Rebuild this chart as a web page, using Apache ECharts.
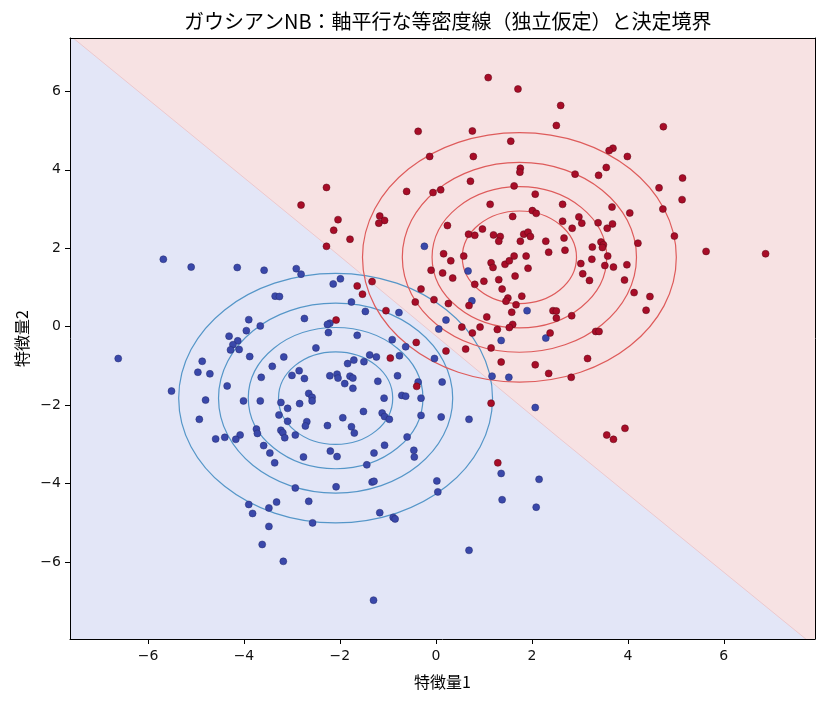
<!DOCTYPE html>
<html>
<head>
<meta charset="utf-8">
<script src="https://cdn.jsdelivr.net/npm/echarts@6/dist/echarts.min.js"></script>
<style>html,body{margin:0;padding:0;background:#fff}#c{width:826px;height:703px}</style>
</head>
<body>
<div id="c"></div>
<script>
// ---- data ----
const titleText = 'ガウシアンNB：軸平行な等密度線（独立仮定）と決定境界';
const xName = '特徴量1';
const yName = '特徴量2';
const xTicks = [-6, -4, -2, 0, 2, 4, 6];
const yTicks = [-6, -4, -2, 0, 2, 4, 6];
const xRange = [-7.625, 7.9];
const yRange = [-7.96, 7.36];

// decision boundary (class 1 above / right)
const boundary = [[-8.2, 8.0], [-2.28, 2.08], [2.58, -2.85], [8.2, -8.45]];
const class1Corner = [[8.2, 8.0]];

// axis-parallel contour ellipses (center, semi-axes for each level)
const class0Center = [-2.09, -1.82];
const class1Center = [1.74, 1.77];
const contourRx = [1.19, 1.82, 2.44, 3.27];
const contourRy = [1.18, 1.80, 2.42, 3.18];

const class0Points = [[-0.24,2.05],[0.67,1.42],[0.75,0.66],[1.90,0.41],[0.21,0.17],[0.06,-0.06],[1.36,-0.35],[2.29,-0.29],[1.52,-1.29],[1.17,-1.26],[2.07,-2.06],[-1.99,1.22],[-2.14,1.09],[-1.76,0.63],[-1.47,0.39],[-0.77,0.36],[-2.21,0.09],[-1.64,-0.22],[-0.91,-0.33],[-0.63,-0.51],[-0.76,-0.74],[-0.03,-0.81],[-1.38,-0.72],[-1.24,-0.77],[-1.50,-0.89],[-1.71,-0.85],[-1.84,-0.94],[-2.21,-1.25],[-2.06,-1.21],[-2.04,-1.31],[-1.79,-1.26],[-1.73,-1.31],[-1.90,-1.45],[-1.73,-1.57],[-1.21,-1.39],[-0.80,-1.25],[-0.37,-1.41],[0.13,-1.41],[-0.71,-1.75],[-0.63,-1.77],[-0.31,-1.82],[-1.08,-1.82],[-1.51,-2.16],[-1.12,-2.20],[-1.07,-2.29],[-0.97,-2.36],[-1.94,-2.32],[-0.31,-2.26],[0.11,-2.30],[0.69,-2.36],[-1.76,-2.55],[-1.70,-2.71],[-0.60,-2.81],
[-5.68,1.72],[-5.10,1.52],[-4.14,1.51],[-3.58,1.44],[-2.91,1.48],[-2.81,1.34],[-3.35,0.78],[-3.26,0.77],[-3.90,0.18],[-3.66,0.02],[-3.95,-0.10],[-4.31,-0.24],[-4.13,-0.36],[-4.23,-0.46],[-4.28,-0.59],[-4.10,-0.58],[-2.74,0.21],[-2.26,0.06],[-2.24,-0.15],[-2.50,-0.54],[-6.62,-0.81],[-4.87,-0.88],[-4.96,-1.16],[-4.71,-1.20],[-3.88,-0.76],[-3.17,-0.77],[-3.41,-1.01],[-3.64,-1.29],[-4.35,-1.51],[-2.85,-1.12],[-3.00,-1.24],[-2.74,-1.32],[-2.65,-1.70],[-2.58,-1.80],[-2.58,-1.89],[-5.51,-1.64],[-4.80,-1.87],[-4.01,-1.89],[-3.66,-1.89],[-3.23,-1.93],[-2.84,-1.96],[-3.09,-2.08],[-3.27,-2.25],[-4.93,-2.36],[-3.09,-2.41],[-2.69,-2.42],[-2.72,-2.53],[-2.26,-2.52],[-3.74,-2.61],[-3.72,-2.72],[-3.23,-2.64],[-3.19,-2.70],[-3.15,-2.83],[-2.93,-2.76],[-4.08,-2.76],[-4.40,-2.82],[-4.59,-2.86],[-4.17,-2.87],
[-3.59,-3.03],[-3.46,-3.22],[-3.36,-3.47],[-2.76,-3.32],[-2.20,-3.17],[-2.93,-4.11],[-3.90,-4.53],[-3.82,-4.76],[-3.32,-4.47],[-3.48,-4.62],[-2.65,-4.45],[-2.57,-5.00],[-3.48,-5.09],[-3.62,-5.55],[-3.18,-5.98],
[-2.06,-3.31],[-1.07,-3.02],[-1.29,-3.22],[-0.46,-3.15],[-0.45,-3.32],[-1.44,-3.52],[-2.08,-4.08],[-1.33,-3.96],[-1.29,-3.94],[0.02,-3.93],[0.04,-4.21],[-1.17,-4.74],[-0.89,-4.86],[-0.85,-4.90],[1.36,-3.74],[2.15,-3.89],[1.38,-4.41],[2.09,-4.60],[0.69,-5.70],[-1.30,-6.97]];

const class1Points = [[-2.28,3.55],[-2.81,3.10],[-2.28,2.05],[1.09,6.35],[1.71,6.06],[2.60,5.64],[2.51,5.13],[-0.37,4.98],[0.76,4.99],[1.56,4.73],[-0.13,4.34],[0.78,4.34],[1.76,4.04],[1.75,3.94],[0.72,3.71],[-0.61,3.45],[-0.06,3.42],[0.10,3.49],[1.63,3.59],[2.07,3.38],[1.13,3.12],[2.01,2.96],[2.09,2.89],[1.60,2.81],[-2.04,2.73],[-2.13,2.46],[-1.17,2.82],[-1.07,2.71],[-1.19,2.64],[-1.79,2.23],[0.24,2.58],[0.97,2.49],[0.68,2.36],[0.81,2.33],[1.20,2.34],[1.34,2.30],[1.31,2.18],[1.76,2.18],[1.83,2.36],[1.92,2.41],[1.97,2.30],[2.29,2.18],
[4.74,5.10],[3.69,4.55],[3.61,4.49],[3.99,4.34],[3.55,4.06],[3.39,3.86],[2.90,3.89],[5.14,3.79],[4.65,3.54],[5.13,3.24],[2.64,3.12],[3.67,3.05],[4.04,2.90],[4.73,3.00],[2.98,2.80],[3.04,2.64],[2.64,2.69],[2.84,2.51],[3.38,2.65],[3.68,2.62],[3.57,2.51],[2.67,2.26],[4.21,2.13],[4.97,2.31],[3.44,2.16],[3.49,2.09],[3.47,2.02],[3.26,2.03],[2.69,1.95],[5.63,1.92],[6.87,1.86],
[3.25,1.72],[3.58,1.80],[3.02,1.61],[3.52,1.56],[3.70,1.52],[3.98,1.58],[3.06,1.35],[3.20,1.18],[3.93,1.19],[4.13,0.87],[4.46,0.77],[4.38,0.42],[2.83,0.28],[3.33,-0.12],[3.40,-0.12],[3.16,-0.81],[2.82,-1.29],[3.94,-2.59],[3.56,-2.76],[3.70,-2.87],
[0.16,1.86],[0.58,1.80],[0.31,1.68],[1.15,1.63],[1.19,1.51],[1.44,1.59],[1.53,1.68],[1.63,1.80],[1.88,1.80],[1.92,1.49],[2.35,1.90],[-0.10,1.44],[0.14,1.37],[0.35,1.24],[1.65,1.29],[1.31,1.20],[1.00,1.16],[0.81,1.08],[1.38,0.96],[-1.64,1.04],[-1.33,1.15],[-1.53,0.83],[-0.31,0.96],[1.79,0.78],[1.50,0.73],[1.46,0.65],[1.67,0.56],[-0.04,0.69],[-0.43,0.63],[0.26,0.59],[0.69,0.54],[1.58,0.37],[2.44,0.41],[2.51,0.40],[2.51,0.22],[-1.04,0.41],[-2.08,0.17],[1.06,0.25],[1.60,0.06],[1.53,-0.02],[1.28,-0.07],[0.92,-0.01],[0.54,-0.01],[0.76,-0.16],[2.38,-0.16],[-0.41,-0.40],[1.15,-0.54],[0.62,-0.57],[0.21,-0.62],[-0.95,-0.80],[1.36,-0.90],[2.07,-0.97],[2.35,-1.19],[-0.40,-1.52],[1.15,-1.95],[1.29,-3.47]];

// ---- styles ----
const BG0 = '#e3e6f7', BG1 = '#f7e2e3', EDGE = '#ecc8cd';
const C0 = '#3a48aa', C1 = '#a80d28';
const L0 = '#5596c8', L1 = '#de5b5b';
const tickFont = {fontSize: 14, fontFamily: 'DejaVu Sans', color: '#111'};
const cjk = "'Noto Sans CJK JP', 'Noto Sans', sans-serif";
const minus = v => String(v).replace('-', '\u2212');

const chart = echarts.init(document.getElementById('c'), null, {renderer: 'canvas'});

function ellipseData(center) {
  return contourRx.map((rx, i) => [center[0], center[1], rx, contourRy[i]]);
}
function ellipseSeries(center, color) {
  return {
    type: 'custom', coordinateSystem: 'cartesian2d', clip: true, z: 3, silent: true,
    data: ellipseData(center),
    encode: {x: 0, y: 1},
    renderItem: function (params, api) {
      const c = api.coord([api.value(0), api.value(1)]);
      const s = api.size([api.value(2), api.value(3)]);
      return {type: 'ellipse', shape: {cx: c[0], cy: c[1], rx: s[0], ry: s[1]},
              style: {fill: 'none', stroke: color, lineWidth: 1.2}};
    }
  };
}

const regionPts = boundary.concat(class1Corner);

const option = {
  animation: false,
  backgroundColor: '#fff',
  title: {
    text: titleText, left: 179, top: 6,
    textStyle: {fontSize: 20, fontWeight: 'normal', color: '#000', fontFamily: cjk}
  },
  grid: {left: 70, top: 38, width: 745, height: 601, show: true, backgroundColor: BG0, borderWidth: 0},
  xAxis: [{
    type: 'value', min: xRange[0], max: xRange[1], z: 10,
    splitLine: {show: false},
    axisLine: {show: true, onZero: false, lineStyle: {color: '#000', width: 1}},
    axisTick: {show: true, length: 5, customValues: xTicks, lineStyle: {color: '#000'}},
    axisLabel: Object.assign({customValues: xTicks, margin: 10, formatter: minus}, tickFont),
    name: xName, nameLocation: 'middle', nameGap: 35,
    nameTextStyle: {fontSize: 16, color: '#000', fontFamily: cjk}
  }, {
    type: 'value', position: 'top', min: xRange[0], max: xRange[1], z: 10,
    splitLine: {show: false}, axisTick: {show: false}, axisLabel: {show: false},
    axisLine: {show: true, onZero: false, lineStyle: {color: '#000', width: 1}}
  }],
  yAxis: [{
    type: 'value', min: yRange[0], max: yRange[1], z: 10,
    splitLine: {show: false},
    axisLine: {show: true, onZero: false, lineStyle: {color: '#000', width: 1}},
    axisTick: {show: true, length: 5, customValues: yTicks, lineStyle: {color: '#000'}},
    axisLabel: Object.assign({customValues: yTicks, margin: 9, formatter: minus}, tickFont),
    name: yName, nameLocation: 'middle', nameGap: 40, nameRotate: 90,
    nameTextStyle: {fontSize: 16, color: '#000', fontFamily: cjk}
  }, {
    type: 'value', position: 'right', min: yRange[0], max: yRange[1], z: 10,
    splitLine: {show: false}, axisTick: {show: false}, axisLabel: {show: false},
    axisLine: {show: true, onZero: false, lineStyle: {color: '#000', width: 1}}
  }],
  series: [
    {
      type: 'custom', coordinateSystem: 'cartesian2d', clip: true, z: 1, silent: true,
      data: [0],
      renderItem: function (params, api) {
        const pts = regionPts.map(p => api.coord(p));
        const line = boundary.map(p => api.coord(p));
        return {type: 'group', children: [
          {type: 'polygon', shape: {points: pts}, style: {fill: BG1}},
          {type: 'polyline', shape: {points: line}, style: {fill: 'none', stroke: EDGE, lineWidth: 1}}
        ]};
      }
    },
    ellipseSeries(class0Center, L0),
    ellipseSeries(class1Center, L1),
    {
      type: 'scatter', data: class0Points, symbolSize: 7, z: 5,
      itemStyle: {color: C0, borderColor: '#222b70', borderWidth: 0.5, opacity: 1}
    },
    {
      type: 'scatter', data: class1Points, symbolSize: 7, z: 5,
      itemStyle: {color: C1, borderColor: '#5a0614', borderWidth: 0.5, opacity: 1}
    }
  ]
};
chart.setOption(option);
</script>
</body>
</html>
